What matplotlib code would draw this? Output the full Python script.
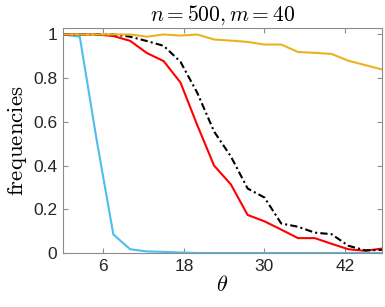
import numpy as np
import matplotlib
matplotlib.use("Agg")
import matplotlib.pyplot as plt

plt.rcParams["mathtext.fontset"] = "cm"
plt.rcParams["font.family"] = ["Liberation Sans", "DejaVu Sans"]

theta = np.arange(20) * 2.5

blue = [1.0, 0.99, 0.52, 0.085, 0.017, 0.007, 0.005, 0.002, 0.0, 0.0,
        0.0, 0.0, 0.0, 0.0, 0.0, 0.0, 0.0, 0.0, 0.0, 0.0]
red = [1.0, 1.0, 1.0, 0.993, 0.971, 0.915, 0.878, 0.78, 0.585, 0.40,
       0.314, 0.174, 0.145, 0.107, 0.068, 0.068, 0.042, 0.017, 0.01, 0.02]
black = [1.0, 1.0, 1.0, 1.0, 0.99, 0.97, 0.948, 0.875, 0.733, 0.556,
         0.442, 0.295, 0.254, 0.135, 0.12, 0.093, 0.086, 0.033, 0.012, 0.014]
orange = [1.0, 1.0, 1.0, 1.0, 1.0, 0.99, 1.0, 0.995, 1.0, 0.977,
          0.972, 0.966, 0.954, 0.954, 0.92, 0.916, 0.911, 0.88, 0.86, 0.84]

fig = plt.figure(figsize=(3.85, 3.07), dpi=100)
ax = fig.add_axes([0.1636, 0.176, 0.8284, 0.733])

ax.plot(theta, blue, color="#4DBEEE", lw=1.5)
ax.plot(theta, red, color="#FF0000", lw=1.5)
ax.plot(theta, black, color="black", lw=1.5, ls=(0, (3.5, 1.5, 1, 1.5)))
ax.plot(theta, orange, color="#EDB120", lw=1.5)

ax.set_xlim(0, 47.5)
ax.set_ylim(0, 1.03)
ax.set_xticks([6, 18, 30, 42])
ax.set_yticks([0, 0.2, 0.4, 0.6, 0.8, 1])
ax.set_yticklabels(["0", "0.2", "0.4", "0.6", "0.8", "1"])

for s in ax.spines.values():
    s.set_color("#8c8c8c")
    s.set_linewidth(0.8)
ax.tick_params(direction="in", length=3.5, width=0.8, color="#8c8c8c",
               labelsize=12.5, labelcolor="#262626", top=True, right=True, pad=4)

ax.set_title(r"$n = 500, m = 40$", fontsize=15.5, pad=5)
ax.set_xlabel(r"$\theta$", fontsize=16, labelpad=1)
ax.set_ylabel(r"$\mathrm{frequencies}$", fontsize=16.5, labelpad=3)

fig.savefig("out.png", dpi=100)
